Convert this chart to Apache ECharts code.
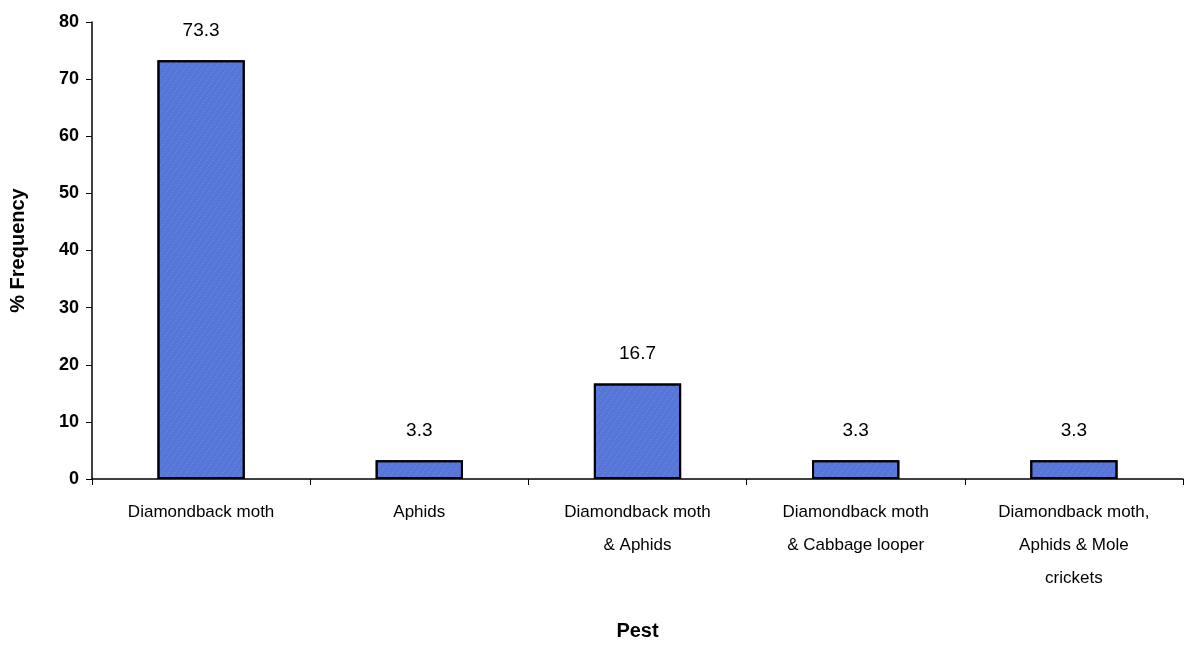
<!DOCTYPE html>
<html><head><meta charset="utf-8">
<script src="https://cdn.jsdelivr.net/npm/echarts@6/dist/echarts.min.js"></script>
<style>html,body{margin:0;padding:0;background:#fff}#c{width:1192px;height:646px}</style>
</head><body><div id="c"></div>
<script>
const categories = ["Diamondback moth", "Aphids", "Diamondback moth\n& Aphids", "Diamondback moth\n& Cabbage looper", "Diamondback moth,\nAphids & Mole\ncrickets"];
const values = [73.3, 3.3, 16.7, 3.3, 3.3];
const yTicks = [0, 10, 20, 30, 40, 50, 60, 70, 80];

const chart = echarts.init(document.getElementById('c'), null, {renderer: 'canvas'});
const font = '"Liberation Sans", Arial, sans-serif';
chart.setOption({
  animation: false,
  backgroundColor: '#fff',
  grid: {left: 88, right: 9, top: 22, bottom: 165, containLabel: false},
  xAxis: {
    type: 'category', data: categories,
    name: 'Pest', nameLocation: 'middle', nameGap: 142,
    nameTextStyle: {fontFamily: font, fontSize: 20, fontWeight: 'bold', color: '#000'},
    axisLine: {lineStyle: {color: '#000', width: 1.5}},
    axisTick: {show: true, alignWithLabel: false, length: 6, lineStyle: {color: '#000'}},
    axisLabel: {interval: 0, margin: 17, fontFamily: font, fontSize: 17, color: '#000', lineHeight: 33}
  },
  yAxis: {
    type: 'value', min: yTicks[0], max: yTicks[yTicks.length - 1], interval: 10,
    name: '% Frequency', nameLocation: 'middle', nameGap: 64, nameRotate: 90,
    nameTextStyle: {fontFamily: font, fontSize: 20, fontWeight: 'bold', color: '#000'},
    axisLine: {show: true, lineStyle: {color: '#000', width: 1.5}},
    axisTick: {show: true, length: 6, lineStyle: {color: '#000'}},
    splitLine: {show: false},
    axisLabel: {margin: 13, fontFamily: font, fontSize: 18, fontWeight: 'bold', color: '#000'}
  },
  series: [{
    type: 'bar', data: values, barWidth: '40%',
    itemStyle: {
      color: '#5576d8', borderColor: '#000', borderWidth: 2,
      decal: {symbol: 'rect', symbolSize: 0.6, color: 'rgba(255,255,255,0.4)', dashArrayX: [2, 3], dashArrayY: [1, 2], rotation: 0.6}
    },
    label: {show: true, position: 'top', distance: 20, fontFamily: font, fontSize: 19, color: '#000',
      formatter: p => p.value.toFixed(1)}
  }]
});
</script></body></html>
